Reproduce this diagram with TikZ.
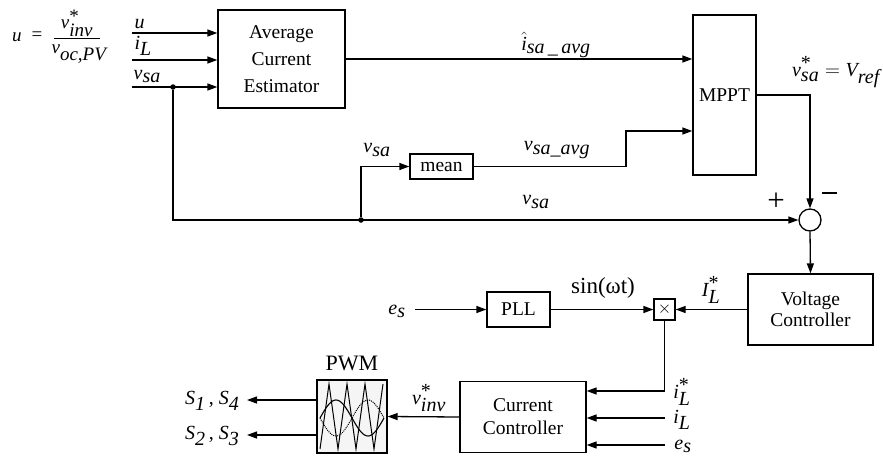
\documentclass[tikz,border=0pt]{standalone}
\usepackage{fontspec}
\setmainfont{Liberation Serif}
\usetikzlibrary{arrows.meta}
\newcommand\vi[1]{\textit{#1}}
\begin{document}
\begin{tikzpicture}[x=1pt,y=-1pt,line width=1.3pt,
  >={Triangle[length=10pt,width=7pt]},
  blk/.style={draw,line width=1.3pt,align=center,inner sep=0pt,font=\fontsize{19.5}{21}\selectfont},
  lbl/.style={inner sep=0pt,font=\fontsize{20}{21}\selectfont},
  sml/.style={inner sep=0pt,font=\fontsize{19}{20}\selectfont},
  dot/.style={circle,fill=black,inner sep=0pt,minimum size=5.5pt}]
\useasboundingbox (0,0) rectangle (883,455);
% blocks
\node[blk,minimum width=127pt,minimum height=98pt,font=\fontsize{19.5}{27}\selectfont] (AE) at (281.5,59) {Average\\Current\\Estimator};
\node[blk,minimum width=63pt,minimum height=160pt] (MPPT) at (724.5,95) {MPPT};
\node[blk,minimum width=63pt,minimum height=25pt] (mean) at (441.5,166.5) {mean};
\node[draw,circle,line width=1.3pt,minimum size=22pt,inner sep=0pt] (sum) at (810,220) {};
\node[blk,minimum width=125pt,minimum height=71pt] (VC) at (810.5,309.5) {Voltage\\Controller};
\node[blk,minimum width=63pt,minimum height=35pt] (PLL) at (518.5,309.5) {PLL};
\node[blk,minimum width=21pt,minimum height=21pt,font=\fontsize{16}{16}\selectfont] (mult) at (664.5,309.5) {$\times$};
\node[blk,minimum width=126pt,minimum height=71pt,font=\fontsize{19.5}{23}\selectfont] (CC) at (523,417) {Current\\Controller};
\node[blk,fill=gray!8,minimum width=70pt,minimum height=73pt] (PWM) at (352,416.5) {};
% PWM drawing
\draw[line width=1pt] (320,449) -- (329,384) -- (338,449) -- (347,384) -- (356,449) -- (365,384) -- (374,449) -- (383,384);
\draw[line width=1.1pt] plot[domain=0:360,samples=50] ({320+\x/360*64},{418-18*sin(\x)});
\draw[line width=1pt,densely dotted] plot[domain=0:360,samples=50] ({320+\x/360*64},{418+18*sin(\x)});
% coordinates
\coordinate (uin) at (132,33);
\coordinate (iin) at (132,60);
\coordinate (vin) at (132,87);
\node[dot] (j1) at (173,87) {};
\node[dot] (j2) at (361,220) {};
\coordinate (b1) at (626,166.5);
\coordinate (b2) at (626,131);
\coordinate (m2) at (MPPT.west |- b2);
\coordinate (esin) at (415,309.5);
\coordinate (cc1) at (CC.east |- 0,391);
\coordinate (ilin) at (665,418);
\coordinate (ilend) at (CC.east |- ilin);
\coordinate (esin2) at (665,445);
\coordinate (esend) at (CC.east |- esin2);
\coordinate (s1a) at (PWM.west |- 0,400);
\coordinate (s1b) at (247,400);
\coordinate (s2a) at (PWM.west |- 0,435);
\coordinate (s2b) at (247,435);
% connectors
\draw[->] (uin) -- (AE.west |- uin);
\draw[->] (iin) -- (AE.west |- iin);
\draw[->] (vin) -- (AE.west |- vin);
\draw[->] (AE.east) -- (MPPT.west |- AE.east);
\draw[->] (j1) |- (sum.west);
\draw[->] (j2) |- (mean.west);
\draw[->] (mean.east) -- (b1) -- (b2) -- (m2);
\draw[->] (MPPT.east) -| (sum.north);
\draw[->] (sum.south) -- (VC.north);
\draw[->] (VC.west) -- (mult.east);
\draw[->] (PLL.east) -- (mult.west);
\draw[->] (esin) -- (PLL.west);
\draw[->] (mult.south) |- (cc1);
\draw[->] (ilin) -- (ilend);
\draw[->] (esin2) -- (esend);
\draw[->] (CC.west) -- (PWM.east);
\draw[->] (s1a) -- (s1b);
\draw[->] (s2a) -- (s2b);
% formula
\node[sml] (ueq) at (17,37) {\vi{u}};
\node[sml] (eqs) at (37,36) {=};
\draw[line width=1pt] (54,38) -- (100,38);
\node[sml] (fnum) at (77,23) {$\vi{v}^{\textnormal{*}}_{\vi{inv}}$};
\node[sml] (fden) at (79,54) {$\vi{v}_{\vi{oc,PV}}$};
% labels
\node[lbl,anchor=south west] (lu) at (134,29) {$\vi{u}$};
\node[lbl,anchor=south west] (li) at (134,56) {$\vi{i}_{\vi{L}}$};
\node[lbl,anchor=south west] (lv) at (133,83) {$\vi{v}_{\vi{sa}}$};
\node[lbl] (lih) at (556,45) {$\hat{\vi{i}}_{\vi{sa\,\_\,avg}}$};
\node[lbl] (lvref) at (836,72) {$\vi{v}^{\textnormal{*}}_{\vi{sa}}=\vi{V}_{\vi{ref}}$};
\node[lbl] (lv1) at (377,150) {$\vi{v}_{\vi{sa}}$};
\node[lbl] (lv2) at (557,150) {$\vi{v}_{\vi{sa\_avg}}$};
\node[lbl] (lv3) at (536,202) {$\vi{v}_{\vi{sa}}$};
\node[inner sep=0pt,font=\fontsize{31}{31}\selectfont] (plus) at (776,202) {+};
\node[inner sep=0pt] (minus) at (829,193) {\rule{15pt}{1.7pt}};
\node[lbl,font=\fontsize{23}{23}\selectfont] (lsin) at (603,288) {sin(ωt)};
\node[lbl] (lI) at (711,290) {$\vi{I}^{\textnormal{*}}_{\vi{L}}$};
\node[lbl] (les) at (397,311) {$\vi{e}_{\vi{s}}$};
\node[lbl,font=\fontsize{22}{22}\selectfont] (lpwm) at (352,363) {PWM};
\node[lbl] (lvinv) at (429,398) {$\vi{v}^{\textnormal{*}}_{\vi{inv}}$};
\node[lbl] (lil1) at (682,392) {$\vi{i}^{\textnormal{*}}_{\vi{L}}$};
\node[lbl] (lil2) at (682,420) {$\vi{i}_{\vi{L}}$};
\node[lbl] (les2) at (683,446) {$\vi{e}_{\vi{s}}$};
\node[lbl,anchor=east] (ls1) at (240,401) {$\vi{S}_{\vi{1}}$\,, $\vi{S}_{\vi{4}}$};
\node[lbl,anchor=east] (ls2) at (240,436) {$\vi{S}_{\vi{2}}$\,, $\vi{S}_{\vi{3}}$};
\end{tikzpicture}
\end{document}
